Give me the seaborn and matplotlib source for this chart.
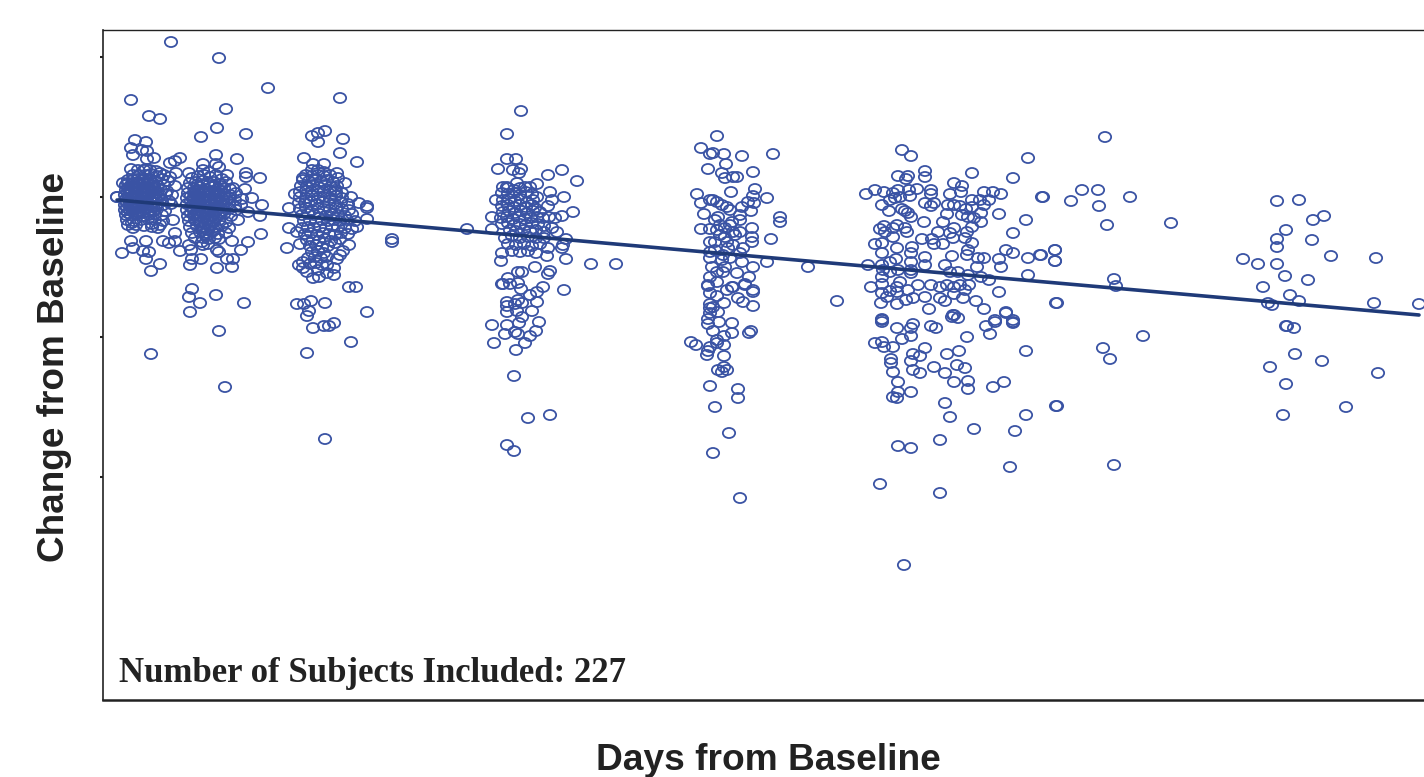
import matplotlib
matplotlib.use("Agg")
import matplotlib.pyplot as plt
from matplotlib.markers import MarkerStyle
from matplotlib.transforms import Affine2D
import pandas as pd
import seaborn as sns

# (days, change) pairs, grouped by visit
visit_1 = [(17,3),(17,3),(71,158),(31,100),(49,84),(60,81),(35,60),(46,58),(31,52),(33,45),(42,50),(47,49),(54,42),(47,41),
    (70,37),(75,39),(80,42),(31,31),(46,31),(60,27),(76,27),(70,23),(23,17),(75,14),(72,5),(31,-41),(33,-48),(43,-51),
    (49,-52),(22,-53),(46,-59),(60,-64),(51,-71),(46,-41),(63,-41),(69,-43),(75,-41),(51,-154),(73,-20),(58,-28),(52,-27),
    (33,-28),(32,-23),(75,-33),
    (38,30),(44,30),(50,30),(56,29),(33,25),(39,25),(45,25),(51,26),(57,24),(64,25),(28,20),(33,20),(38,21),(44,20),(50,20),
    (56,19),(62,21),(68,19),(26,15),(31,15),(36,14),(41,15),(47,16),(52,15),(58,14),(64,15),(26,10),(30,10),(35,11),(40,10),
    (45,9),(50,10),(55,11),(61,10),(67,9),(25,5),(29,5),(34,4),(39,5),(44,6),(49,5),(54,4),(60,5),(66,6),(25,0),(30,0),(35,1),
    (40,0),(45,-1),(50,0),(55,1),(62,0),(69,-1),(25,-5),(30,-5),(35,-6),(40,-5),(45,-4),(50,-5),(56,-6),(63,-5),(71,-4),
    (25,-10),(30,-10),(35,-9),(40,-11),(45,-10),(50,-10),(57,-9),(65,-11),(26,-15),(31,-15),(37,-14),(43,-16),(49,-15),
    (55,-14),(62,-15),(27,-20),(34,-21),(41,-20),(48,-19),(55,-20),(63,-21),(28,-25),(36,-25),(44,-26),(52,-24),(60,-25)]

core_1 = [(28,17),(33,17),(38,18),(43,17),(48,18),(53,17),(28,12),(33,13),(38,12),(43,13),(48,12),(53,13),(28,7),(32,8),(37,7),
    (42,8),(47,7),(52,8),(57,7),(27,2),(32,2),(37,3),(42,2),(47,3),(52,2),(58,3),(27,-3),(32,-3),(37,-2),(42,-3),(47,-2),(53,-3),
    (27,-8),(32,-7),(37,-8),(42,-7),(47,-8),(53,-7),(28,-13),(33,-12),(38,-12),(43,-13),(48,-12),(53,-12)]

visit_2 = [(119,142),(168,112),(126,91),(117,72),(101,63),(146,66),(116,45),(137,41),(103,36),(116,36),(119,33),(89,27),
    (127,25),(146,27),(146,23),(160,22),(145,11),(133,12),(152,2),(162,-5),(148,-12),(160,-16),(161,-34),(148,-42),(141,-50),
    (133,-59),(127,-59),(132,-67),(117,-68),(101,-59),(92,-59),(90,-65),(119,-52),(117,-50),(103,-45),(91,-50),(80,-51),
    (89,-45),(132,-41),(119,-39),(92,-89),(89,-97),(100,-103),(90,-112),(116,-95),(144,-103),(119,-131),(125,-187),
    (103,30),(109,28),(92,22),(98,24),(104,25),(110,23),(116,25),(122,21),(90,17),(96,18),(102,19),(108,17),(114,18),(120,16),
    (126,18),(88,12),(94,12),(100,13),(106,11),(112,13),(118,11),(124,12),(130,11),(88,7),(94,7),(100,6),(106,8),(112,6),
    (118,7),(124,6),(130,5),(136,7),(87,2),(93,1),(99,2),(105,0),(111,2),(117,0),(123,1),(129,2),(135,0),(142,1),(87,-4),
    (93,-4),(99,-3),(105,-5),(111,-4),(117,-3),(123,-5),(129,-4),(135,-6),(141,-5),(87,-10),(93,-9),(99,-10),(105,-11),
    (111,-9),(117,-10),(123,-11),(129,-9),(136,-10),(88,-16),(94,-15),(100,-16),(106,-14),(112,-16),(118,-15),(124,-14),
    (131,-16),(89,-21),(95,-20),(101,-22),(107,-20),(113,-21),(119,-20),(126,-22),(138,-20),(90,-27),(97,-26),(103,-27),
    (109,-26),(115,-27),(122,-26),(129,-28),(92,-33),(100,-32),(106,-33),(112,-32),(118,-34),(126,-33),(95,-38),(103,-38),
    (109,-39),(115,-38),(102,-42),(108,-44)]

core_2 = [(97,15),(103,15),(109,15),(115,14),(121,14),(97,9),(103,9),(109,9),(115,9),(121,9),(91,4),(97,4),(103,3),(109,4),(115,4),
    (121,3),(91,-1),(97,-1),(103,-2),(109,-1),(115,-1),(121,-2),(127,-1),(91,-7),(97,-7),(103,-8),(109,-7),(115,-7),(121,-8),
    (91,-13),(97,-13),(103,-13),(109,-12),(115,-13),(121,-13),(98,-18),(104,-18),(110,-18),(116,-18),(100,-24),(106,-24),(112,-24),
    (102,-30),(108,-30),(114,-30),(106,-36)]

visit_3 = [(240,102),(212,64),(218,67),(225,69),(218,58),(243,61),(240,47),(257,38),(204,42),(213,36),(224,36),(203,22),
    (237,27),(245,17),(235,10),(195,6),(189,-8),(251,3),(259,-3),(267,-6),(267,-8),(267,-19),(292,-39),(292,-42),(249,-87),
    (256,-87),(197,-104),(204,-104),(211,-101),(225,-103),(267,-112),(209,-111),(207,-116),(213,-128),(224,-126),(229,-126),
    (234,-123),(251,-142),(207,-153),(225,-239),(187,-48),(189,-28),(197,-32),(200,-44),(199,-65),(203,-62),(207,-72),
    (213,-78),(219,-77),(227,-73),(234,-75),(234,-68),(227,-65),(237,-59),(240,-55),(243,-51),(249,-45),(235,-43),(257,-27),
    (212,30),(218,30),(224,28),(206,25),(212,24),(218,25),(224,24),(230,25),(203,20),(209,19),(215,20),(221,19),(227,20),
    (233,18),(238,22),(201,14),(207,14),(213,15),(219,13),(225,15),(231,13),(237,14),(200,8),(206,9),(212,8),(218,9),(224,8),
    (230,9),(236,8),(242,7),(200,3),(206,2),(212,4),(218,2),(224,3),(230,2),(236,4),(242,2),(199,-3),(205,-3),(211,-2),
    (217,-4),(223,-2),(229,-3),(235,-4),(241,-2),(248,-4),(200,-9),(206,-8),(212,-10),(218,-8),(224,-9),(230,-10),(236,-8),
    (242,-9),(249,-10),(202,-15),(208,-14),(214,-15),(220,-14),(226,-16),(232,-14),(238,-15),(245,-16),(252,-14),(204,-21),
    (210,-20),(216,-22),(222,-20),(228,-21),(234,-20),(240,-21),(247,-20),(255,-21),(202,-28),(208,-27),(214,-28),(220,-27),
    (226,-28),(232,-26),(238,-27),(245,-28),(252,-29),(205,-34),(211,-33),(217,-35),(223,-33),(229,-34),(235,-35),(241,-33),
    (248,-34),(207,-40),(213,-40),(219,-41),(225,-39),(231,-41),(240,-39),(210,-46),(216,-45),(222,-47),(228,-46),(212,-52),
    (218,-51),(224,-53),(208,-58),(215,-57),(221,-58),(227,-57),(210,-64),(216,-63),(222,-65),(203,-68),(218,-70)]

visit_4 = [(421,89),(407,66),(407,41),(416,41),(398,31),(421,31),(413,30),(419,27),(448,25),(462,30),(477,19),(437,16),
    (417,17),(403,13),(407,13),(430,13),(425,13),(450,8),(464,3),(452,0),(396,0),(448,-6),(437,3),(435,-8),(473,-12),(462,-16),
    (392,-17),(392,-29),(367,-29),(449,-17),(455,-18),(457,-32),(452,-28),(466,-39),(463,-45),(462,-48),(448,-48),(447,-56),
    (466,-59),(491,-64),(516,-64),(401,-61),(402,-53),(435,-67),(450,-71),(448,-74),(402,-84),(408,-78),(418,-72),(422,-72),
    (443,-87),(464,-90),(437,-92),(430,-95),(403,-84),(410,-84),(418,-83),(421,-89),(437,-102),(432,-111),(407,-102),(407,-106),
    (407,-112),(418,-100),(422,-103),(415,-104),(417,-111),(422,-117),(419,-123),(439,-122),(392,-125),(407,-125),(405,-134),
    (415,-132),(418,-134),(436,-131),(430,-136),(394,-143),(425,-143),(416,-150),(414,-176),(450,-215),(428,-218),(407,-245),
    (414,-251),(408,12),(414,10),(420,12),(402,7),(408,6),(414,7),(420,5),(426,8),(432,6),(403,0),(409,1),(415,-1),(421,1),
    (427,-2),(433,0),(402,-6),(408,-5),(414,-7),(420,-5),(426,-7),(432,-5),(403,-12),(409,-11),(415,-13),(421,-11),(427,-13),
    (433,-11),(440,-12),(401,-18),(407,-17),(413,-19),(419,-17),(425,-19),(431,-18),(437,-17),(443,-18),(402,-24),(408,-23),
    (414,-25),(420,-24),(426,-25),(432,-23),(438,-24),(444,-26),(410,-30),(416,-31),(424,-30),(430,-31),(436,-30),(444,-32),
    (405,-38),(412,-36),(420,-38),(428,-37),(436,-38),(444,-38),(408,-44),(416,-45),(424,-44),(432,-46),(440,-44),(412,-51),
    (420,-52),(428,-51),(436,-53)]

visit_5 = [(617,64),(601,52),(610,46),(613,47),(624,46),(642,44),(673,46),(626,36),(608,31),(622,27),(653,28),(625,22),
    (633,23),(637,23),(655,11),(631,8),(597,6),(653,4),(667,2),(601,-3),(610,0),(613,0),(617,-2),(622,-5),(627,-7),(630,-10),
    (648,-2),(654,-3),(642,-7),(651,-11),(604,-14),(618,-17),(640,-15),(640,-20),(680,-17),(680,-22),(632,-22),(601,-29),
    (610,-29),(617,-30),(652,-28),(652,-37),(652,-42),(625,-37),(627,-42),(633,-32),(640,-32),(671,-39),(610,-42),(615,-42),
    (633,-45),(643,-48),(640,-53),(610,-52),(610,-58),(623,-55),(667,-62),(708,-67),(642,-62),(653,-67),(612,-67),(625,-67),
    (623,-72),(637,-73),(649,-77),(610,-77),(617,-82),(608,-86),(645,-84),(632,-87),(653,-90),(608,-85),(610,-93),(617,-96),
    (627,-90),(633,-87),(645,-85),(653,-92),(638,-98),(643,-102),(653,-106),(624,-103),(610,-104),(610,-108),(613,-107),
    (610,-113),(618,-112),(608,-119),(608,-124),(619,-122),(632,-123),(613,-131),(632,-133),(651,-131),(649,-133),(624,-136),
    (591,-142),(596,-145),(617,-140),(617,-143),(624,-145),(610,-147),(608,-151),(607,-155),(624,-156),(618,-170),(622,-172),
    (624,-167),(627,-170),(610,-186),(638,-189),(638,-198),(615,-207),(629,-233),(613,-253),(640,-298),(615,-20),(620,-25),
    (625,-28),(630,-25),(635,-35),(620,-35),(615,-50),(628,-48),(622,-60),(630,-58),(617,-72)]

visit_6 = [(802,50),(811,44),(825,29),(825,23),(798,24),(808,24),(806,21),(872,27),(854,17),(862,14),(861,8),(850,6),(831,10),
    (831,6),(817,11),(766,6),(775,10),(784,8),(793,7),(798,10),(809,10),(810,4),(800,3),(795,2),(790,0),(782,-5),(789,-11),
    (802,-9),(805,-11),(808,-13),(811,-17),(825,-3),(834,-3),(831,-6),(848,-5),(854,-5),(860,-6),(872,0),(884,8),(893,8),
    (901,6),(880,0),(889,0),(884,-5),(872,-7),(866,-9),(881,-13),(899,-14),(847,-14),(843,-22),(824,-22),(862,-15),(868,-17),
    (874,-18),(881,-22),(926,-20),(942,3),(928,42),(913,22),(913,-33),(872,-27),(854,-28),(867,-32),(850,-33),(838,-32),
    (807,-32),(805,-28),(797,-25),(784,-26),(780,-29),(785,-32),(793,-28),(793,-37),(822,-39),(832,-39),(834,-44),(843,-44),
    (853,-38),(865,-38),(872,-43),(775,-44),(782,-43),(797,-48),(812,-47),(811,-53),(782,-53),(868,-50),(867,-55),(852,-56),
    (878,-58),(884,-58),(906,-50),(913,-53),(928,-58),(940,-55),(955,-50),(955,-61),(899,-59),(901,-67),(845,-65),(825,-57),
    (825,-65),(796,-59),(811,-62),(790,-62),(768,-65),(782,-65),(783,-70),(790,-72),(798,-70),(811,-70),(811,-73),(850,-72),
    (858,-72),(868,-75),(877,-67),(881,-77),(889,-80),(928,-75),(782,-77),(782,-84),(771,-87),(800,-82),(808,-90),(818,-85),
    (831,-85),(840,-87),(847,-85),(854,-87),(860,-85),(869,-85),(865,-90),(854,-94),(899,-92),(797,-87),(790,-91),(797,-92),
    (782,-93),(787,-97),(806,-100),(813,-98),(825,-97),(840,-98),(845,-101),(863,-98),(876,-101),(781,-103),(797,-104),
    (737,-101),(957,-103),(829,-109),(884,-109),(906,-112),(895,-120),(913,-120),(782,-119),(853,-115),(782,-120),(782,-122),
    (797,-128),(813,-124),(811,-128),(831,-126),(836,-128),(852,-117),(854,-115),(858,-118),(886,-126),(895,-122),(906,-113),
    (913,-122),(913,-123),(890,-134),(867,-137),(811,-136),(802,-139),(775,-143),(782,-142),(784,-147),(793,-147),(825,-148),
    (813,-154),(820,-156),(847,-154),(859,-151),(926,-151),(791,-159),(791,-163),(811,-161),(793,-172),(813,-170),(820,-173),
    (834,-167),(845,-173),(857,-165),(865,-168),(798,-182),(854,-182),(868,-181),(868,-189),(904,-182),(893,-187),(811,-192),
    (798,-192),(793,-197),(797,-198),(845,-203),(850,-217),(874,-229),(926,-215),(957,-206),(915,-231),(840,-240),(798,-246),
    (811,-248),(910,-267),(780,-284),(840,-293),(804,-365)]

visit_7 = [(1005,63),(943,3),(971,-1),(982,10),(998,10),(999,-6),(1030,3),(1007,-25),(1071,-23),(955,-50),(955,-61),(941,-55),
    (1014,-79),(1016,-86),(956,-103),(1043,-136),(1003,-148),(1010,-159),(956,-206),(1014,-265)]

visit_8 = [(1177,-1),(1199,0),(1224,-16),(1213,-20),(1186,-30),(1177,-39),(1212,-40),(1177,-47),(1231,-56),(1276,-58),(1143,-59),
    (1158,-64),(1177,-64),(1185,-76),(1208,-80),(1163,-87),(1190,-95),(1199,-101),(1168,-103),(1172,-105),(1274,-103),(1319,-104),
    (1186,-126),(1187,-126),(1194,-128),(1195,-154),(1222,-161),(1170,-167),(1278,-173),(1186,-184),(1246,-207),(1183,-215)]

# fitted line, end points only
trend_days = [17, 1319]
trend_change = [0, -115]

ytick_values = [143, 3, -137, -277]

ring_color = "#3a53a4"
line_color = "#1f3a78"

frames = []
for name, visit in [("1", visit_1 + core_1), ("2", visit_2 + core_2), ("3", visit_3), ("4", visit_4),
                    ("5", visit_5), ("6", visit_6), ("7", visit_7), ("8", visit_8)]:
    frames.append(pd.DataFrame(visit, columns=["days", "change"]).assign(visit=name))
df = pd.concat(frames, ignore_index=True)

sns.set_theme(style="white")

fig = plt.figure(figsize=(14.24, 7.77), dpi=100)
ax = fig.add_axes([103 / 1424, 77 / 777, 1321 / 1424, 670 / 777])

# rings are a bit wider than tall in the original
ring = MarkerStyle("o", transform=Affine2D().scale(1.0, 0.82))
sns.scatterplot(data=df, x="days", y="change", marker=ring, s=78, facecolors="none",
                edgecolor=ring_color, linewidth=1.3, legend=False, ax=ax, clip_on=False, zorder=2)
sns.lineplot(x=trend_days, y=trend_change, color=line_color, linewidth=2.6, ax=ax, zorder=3)

ax.set_xlim(3, 1324)
ax.set_ylim(-500, 170)
ax.set_xticks([])
ax.set_yticks(ytick_values)
ax.set_yticklabels([])
ax.tick_params(axis="y", length=2, width=1.5, color="#222222", left=True)

ax.spines["right"].set_visible(False)
ax.spines["top"].set_linewidth(1.0)
ax.spines["left"].set_linewidth(1.2)
ax.spines["bottom"].set_linewidth(1.8)
for side in ["top", "left", "bottom"]:
    ax.spines[side].set_color("#222222")

ax.set_xlabel("")
ax.set_ylabel("")
ax.text(19, -473, "Number of Subjects Included: 227", family="Liberation Serif", fontweight="bold",
        fontsize=25, color="#222222", va="center", ha="left")
fig.text(768 / 1424, 1 - 760 / 777, "Days from Baseline", family="Liberation Sans", fontweight="bold",
         fontsize=26.7, color="#222222", ha="center", va="center")
fig.text(55 / 1424, 1 - 367 / 777, "Change from Baseline", family="Liberation Sans", fontweight="bold",
         fontsize=26.6, color="#222222", rotation=90, ha="center", va="center")

fig.savefig("out.png", dpi=100)
